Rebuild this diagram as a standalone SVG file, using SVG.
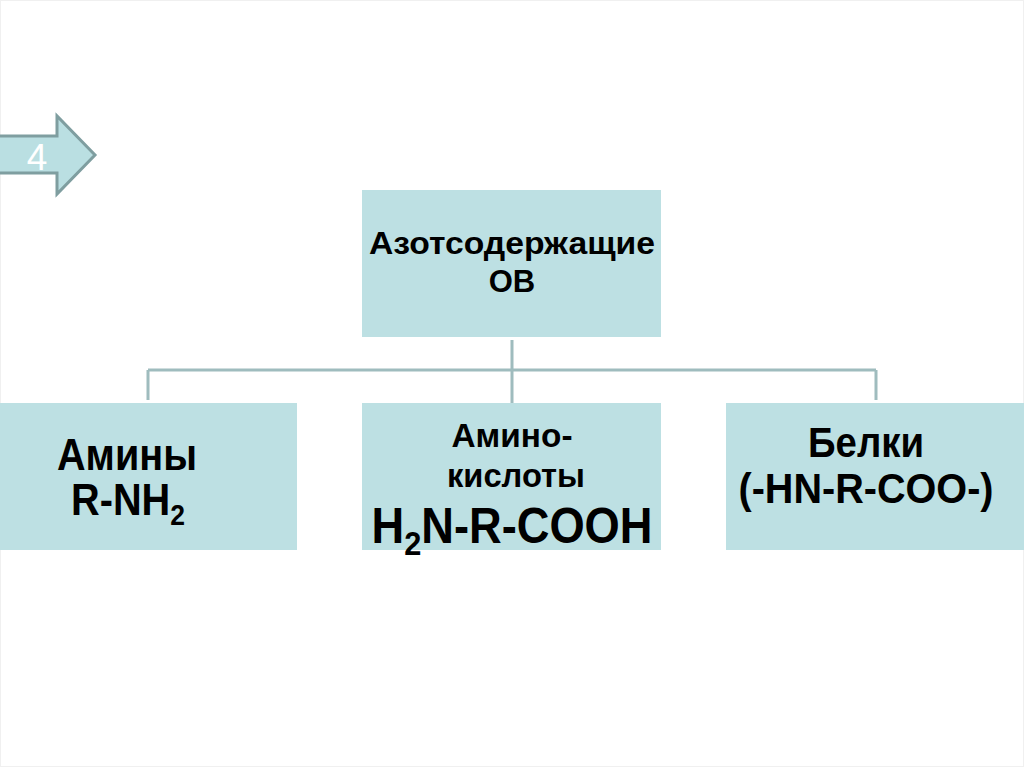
<svg xmlns="http://www.w3.org/2000/svg" width="1024" height="767" viewBox="0 0 1024 767">
<style>
.box{fill:#bde0e3}
.t{font-family:"Liberation Sans",Arial,sans-serif;font-weight:bold;fill:#000;text-anchor:middle}
.conn{fill:none;stroke:#9fbcbe;stroke-width:3}
</style>
<rect x="0.5" y="0.5" width="1023" height="766" fill="#fff" stroke="#f0f0f0"/>
<g id="arrow">
<polygon points="-2,136 57,136 57,116 95,155 57,194 57,173 -2,173" fill="#badfe2" stroke="#7f9ea0" stroke-width="3"/>
<text x="37" y="170" font-family="Liberation Sans,Arial,sans-serif" font-size="37" fill="#fff" text-anchor="middle">4</text>
</g>
<g id="connectors">
<path class="conn" d="M512 340V403M148 370H876M148 370V400M876 370V400"/>
</g>
<g id="root">
<rect class="box" x="362" y="190" width="299" height="147"/>
<text class="t" x="512" y="254" font-size="31" textLength="286" lengthAdjust="spacingAndGlyphs">Азотсодержащие</text>
<text class="t" x="512" y="292" font-size="31">ОВ</text>
</g>
<g id="amines">
<rect class="box" x="0" y="403" width="297" height="147"/>
<text class="t" x="127" y="470" font-size="45" textLength="140" lengthAdjust="spacingAndGlyphs">Амины</text>
<text class="t" x="128" y="515" font-size="45" textLength="114" lengthAdjust="spacingAndGlyphs">R-NH<tspan font-size="30" dy="10">2</tspan></text>
</g>
<g id="aminoacids">
<rect class="box" x="362" y="403" width="299" height="147"/>
<text class="t" x="512" y="447" font-size="34" textLength="121" lengthAdjust="spacingAndGlyphs">Амино-</text>
<text class="t" x="516" y="487" font-size="34" textLength="138" lengthAdjust="spacingAndGlyphs">кислоты</text>
<text class="t" x="512" y="543" font-size="50" textLength="281" lengthAdjust="spacingAndGlyphs">H<tspan font-size="34" dy="12">2</tspan><tspan dy="-12">N-R-COOH</tspan></text>
</g>
<g id="proteins">
<rect class="box" x="726" y="403" width="298" height="147"/>
<text class="t" x="866" y="457" font-size="42" textLength="116" lengthAdjust="spacingAndGlyphs">Белки</text>
<text class="t" x="866" y="503" font-size="42" textLength="255" lengthAdjust="spacingAndGlyphs">(-HN-R-COO-)</text>
</g>
</svg>
